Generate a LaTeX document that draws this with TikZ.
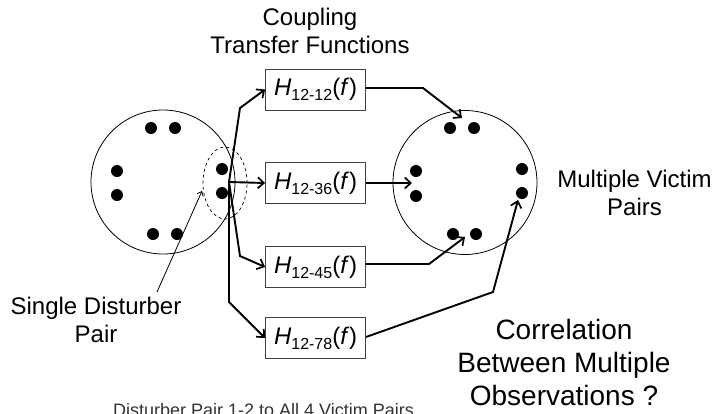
\documentclass[tikz,border=0pt]{standalone}
\usepackage{fontspec}
\setmainfont{Liberation Sans}
\usetikzlibrary{arrows.meta,shapes.geometric}
\newcommand{\Hsub}[1]{\textit{H}\raisebox{-5pt}{\fontsize{16}{16}\selectfont #1}(\textit{f})}
\begin{document}
\begin{tikzpicture}[x=1pt,y=-1pt,
  conn/.style={line width=1.9pt,-{Straight Barb[length=6pt,width=11pt,line width=1.7pt]}},
  ptr/.style={line width=0.8pt,-{Straight Barb[length=4pt,width=7pt,line width=0.8pt]}},
  tf/.style={draw=black!75,line width=0.9pt,minimum width=100pt,minimum height=41pt,inner sep=0pt,font=\fontsize{24}{28}\selectfont},
  dot/.style={circle,fill=black,minimum size=12pt,inner sep=0pt},
  ring/.style={circle,draw,line width=0.8pt,minimum size=144pt,inner sep=0pt},
  lbl/.style={align=center,font=\fontsize{24}{28}\selectfont,inner sep=0pt,anchor=base}]
\useasboundingbox (0,0) rectangle (714,413);
\fill[white] (0,0) rectangle (714,413);

% left cable
\node[ring] (lc) at (163,182) {};
\node[dot] (l1) at (151,128) {};
\node[dot] (l2) at (175,128) {};
\node[dot] (l3) at (117,171) {};
\node[dot] (l4) at (117,195) {};
\node[dot] (l5) at (153,234) {};
\node[dot] (l6) at (177,234) {};
\node[dot] (l7) at (222,169) {};
\node[dot] (l8) at (222,193) {};
\node[ellipse,draw,dashed,line width=0.7pt,minimum width=44pt,minimum height=72pt,inner sep=0pt] (sel) at (225,183) {};

% right cable
\node[ring] (rc) at (465,182.5) {};
\node[dot] (r1) at (450,128) {};
\node[dot] (r2) at (474,128) {};
\node[dot] (r3) at (416,171) {};
\node[dot] (r4) at (416,196) {};
\node[dot] (r5) at (522,169) {};
\node[dot] (r6) at (522,193) {};
\node[dot] (r7) at (453,234) {};
\node[dot] (r8) at (476,234) {};

% transfer function boxes
\node[tf] (b1) at (315.5,89.5) {\Hsub{12-12}};
\node[tf] (b2) at (315.5,183) {\Hsub{12-36}};
\node[tf] (b3) at (315.5,267) {\Hsub{12-45}};
\node[tf] (b4) at (315.5,338) {\Hsub{12-78}};

% fan-out
\coordinate (j) at (229,182);
\coordinate (k1) at (240,108);
\coordinate (k3) at (240,256);
\coordinate (k4) at (229,302);
\draw[conn] (j) -- (k1) -- (b1.west);
\draw[conn] (j) -- (b2.west);
\draw[conn] (j) -- (k3) -- (b3.west);
\draw[conn] (j) -- (k4) -- (b4.west);

% fan-in
\coordinate (m1) at (423,88);
\coordinate (t1) at (462,118);
\coordinate (t2) at (412,183);
\coordinate (m3) at (429,264);
\coordinate (t3) at (465,237);
\coordinate (m4) at (493,292);
\coordinate (t4) at (518,200);
\draw[conn] ([yshift=1.5pt]b1.east) -- (m1) -- (t1);
\draw[conn] (b2.east) -- (t2);
\draw[conn] ([yshift=3pt]b3.east) -- (m3) -- (t3);
\draw[conn] ([yshift=1pt]b4.east) -- (m4) -- (t4);

% labels (base anchor = baseline of last line)
\node[lbl] (cpl) at (310,53) {Coupling\\Transfer Functions};
\node[lbl] (sdp) at (96,342) {Single Disturber\\Pair};
\node[lbl] (mvp) at (634.5,215) {Multiple Victim\\Pairs};
\node[lbl,font=\fontsize{28}{33}\selectfont] (cor) at (564,405) {Correlation\\Between Multiple\\Observations ?};
\node[anchor=base west,inner sep=0pt,font=\fontsize{18}{20}\selectfont,text=black!80] (cap) at (113,416) {Disturber Pair 1-2 to All 4 Victim Pairs};

\coordinate (p0) at (157,292);
\coordinate (p1) at (202,191);
\draw[ptr] (p0) -- (p1);
\end{tikzpicture}
\end{document}
